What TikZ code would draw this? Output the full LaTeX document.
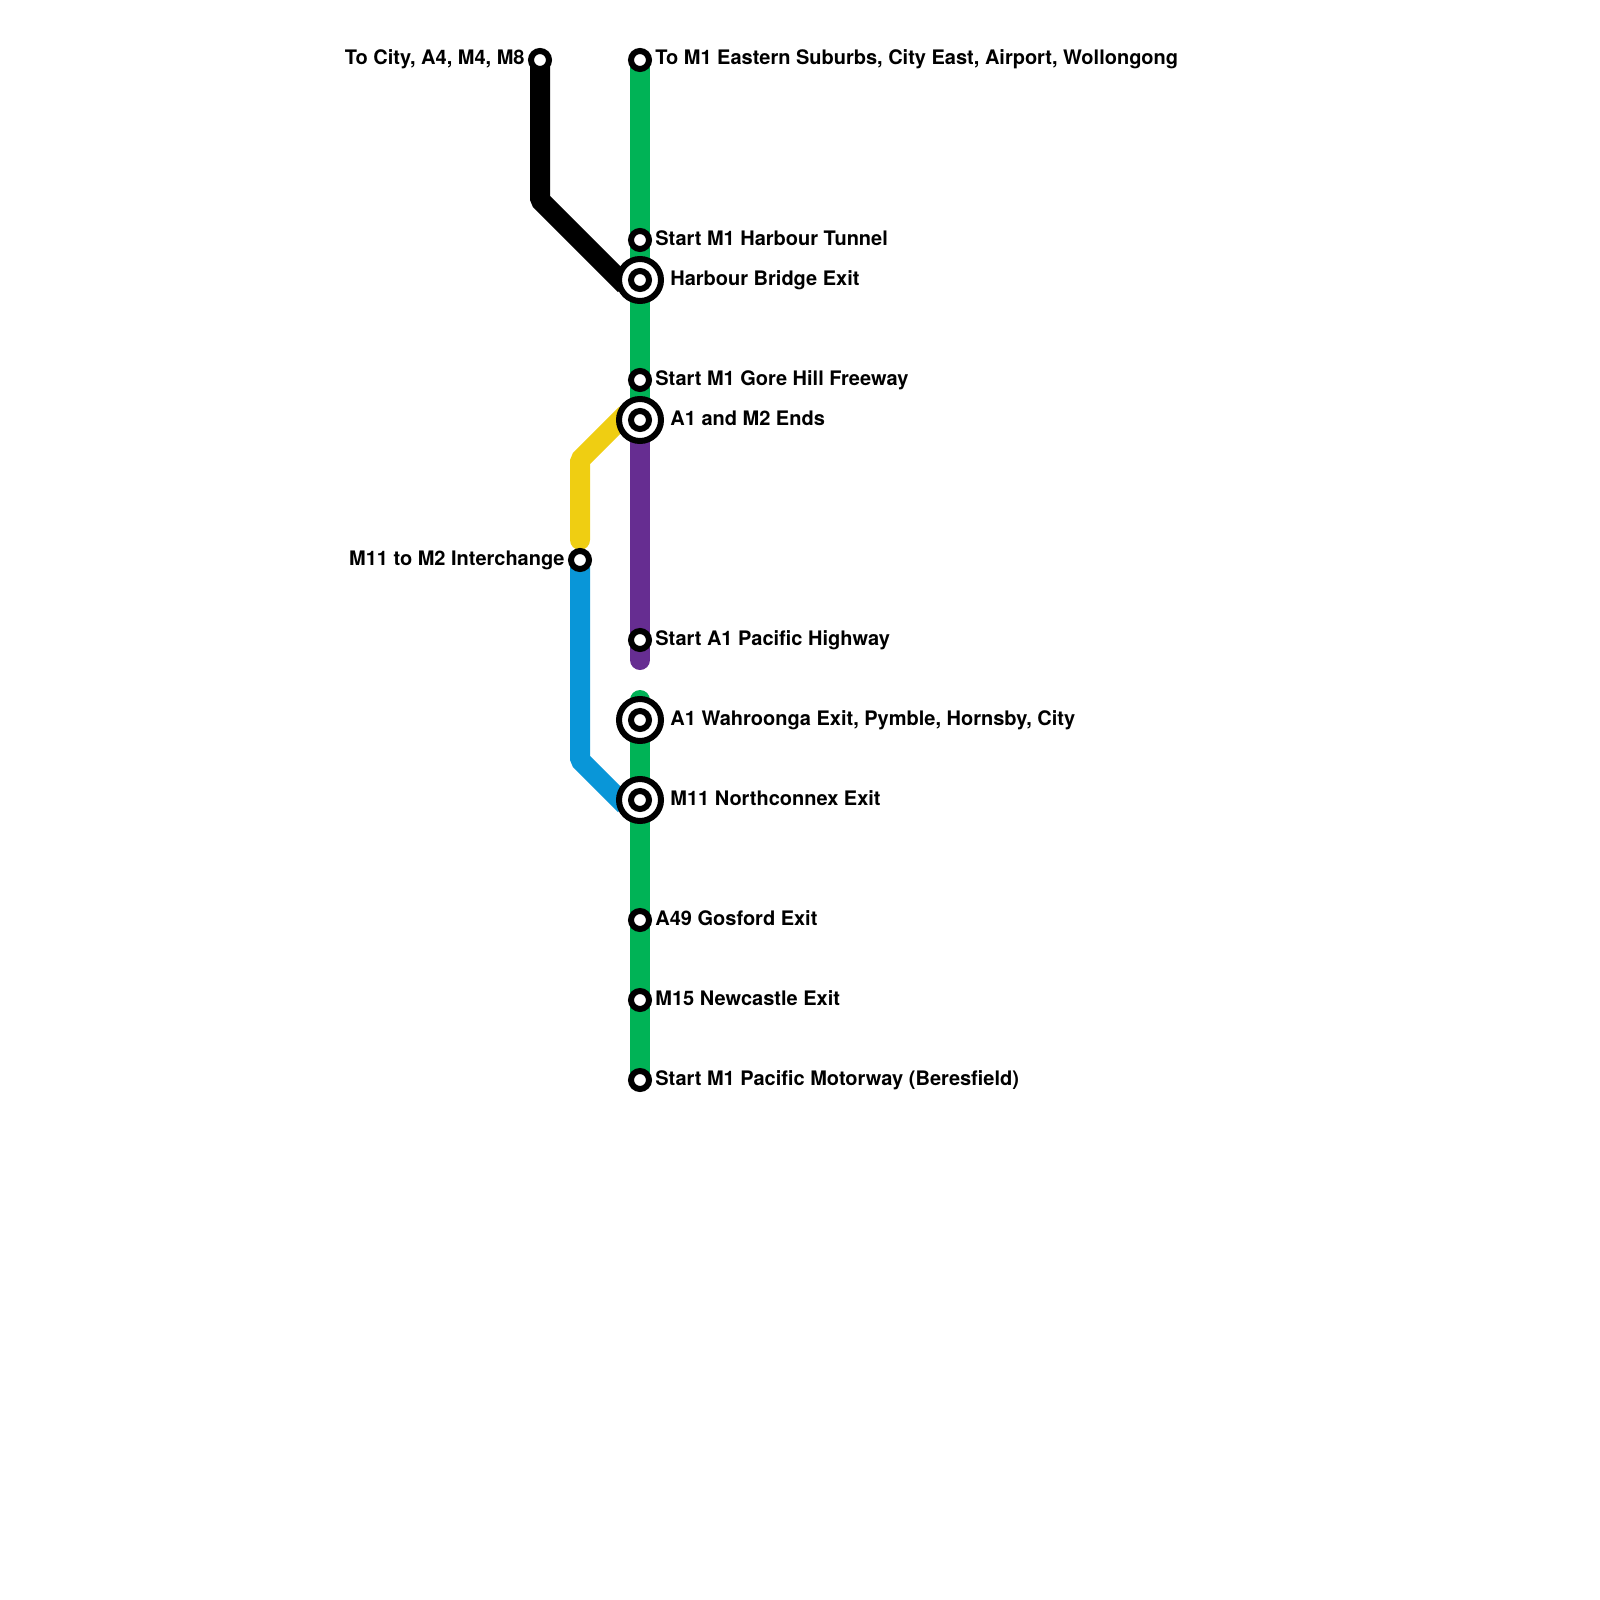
\documentclass[tikz,border=0pt]{standalone}
\usepackage{fontspec}
\setmainfont{TeX Gyre Heros}
\usetikzlibrary{positioning,backgrounds}

\begin{document}
\begin{tikzpicture}[x=0.5pt,y=-0.5pt,on grid,
  stop/.style={circle,draw=black,fill=white,line width=3pt,inner sep=0pt,minimum size=9pt},
  ring/.style={stop,minimum size=21pt},
  label/.style={font=\bfseries\fontsize{10}{12}\selectfont,inner sep=0pt},
  route/.style={line width=10pt,line join=bevel}]
  \useasboundingbox (0,0) rectangle (1600,1600);

  \node[stop] (eastern) at (640,60) {};
  \node[stop,below=90pt of eastern] (tunnel) {};
  \node[ring,below=20pt of tunnel] (bridge_ring) {};
  \node[stop] (bridge) at (bridge_ring) {};
  \node[stop,below=50pt of bridge] (gore) {};
  \node[ring,below=20pt of gore] (ends_ring) {};
  \node[stop] (ends) at (ends_ring) {};
  \node[stop,below=110pt of ends] (pacific) {};
  \node[ring,below=40pt of pacific] (wahroonga_ring) {};
  \node[stop] (wahroonga) at (wahroonga_ring) {};
  \node[ring,below=40pt of wahroonga] (northconnex_ring) {};
  \node[stop] (northconnex) at (northconnex_ring) {};
  \node[stop,below=60pt of northconnex] (gosford) {};
  \node[stop,below=40pt of gosford] (newcastle) {};
  \node[stop,below=40pt of newcastle] (beresfield) {};

  \node[stop] (city) at (540,60) {};
  \node[stop] (interchange) at (580,560) {};

  \node[label,anchor=base west] at (655,65) {To M1 Eastern Suburbs, City East, Airport, Wollongong};
  \node[label,anchor=base west] at (655,245) {Start M1 Harbour Tunnel};
  \node[label,anchor=base west] at (670,285) {Harbour Bridge Exit};
  \node[label,anchor=base west] at (655,385) {Start M1 Gore Hill Freeway};
  \node[label,anchor=base west] at (670,425) {A1 and M2 Ends};
  \node[label,anchor=base west] at (655,645) {Start A1 Pacific Highway};
  \node[label,anchor=base west] at (670,725) {A1 Wahroonga Exit, Pymble, Hornsby, City};
  \node[label,anchor=base west] at (670,805) {M11 Northconnex Exit};
  \node[label,anchor=base west] at (655,925) {A49 Gosford Exit};
  \node[label,anchor=base west] at (655,1005) {M15 Newcastle Exit};
  \node[label,anchor=base west] at (655,1085) {Start M1 Pacific Motorway (Beresfield)};
  \node[label,anchor=base east] at (525,65) {To City, A4, M4, M8};
  \node[label,anchor=base east] at (565,565) {M11 to M2 Interchange};

  \coordinate (city_bend) at (540,200);
  \coordinate (city_end) at (625,285);
  \coordinate (yellow_start) at (625,415);
  \coordinate (yellow_bend) at (580,460);
  \coordinate (yellow_end) at (580,540);
  \coordinate (blue_bend) at (580,760);
  \coordinate (blue_end) at (625,805);
  \coordinate (purple_end) at (640,660);
  \coordinate (green_end) at (640,700);

  \begin{pgfonlayer}{background}
    \draw[route,draw={rgb,255:red,0;green,179;blue,86}] (eastern.center) -- (ends.center);
    \draw[route,draw={rgb,255:red,0;green,179;blue,86},line cap=round] (green_end) -- (beresfield.center);
    \draw[route,draw={rgb,255:red,102;green,45;blue,145},line cap=round] (ends.center) -- (purple_end);
    \draw[route,draw=black] (city.center) -- (city_bend) -- (city_end);
    \draw[route,draw={rgb,255:red,239;green,206;blue,18},line cap=round] (yellow_start) -- (yellow_bend) -- (yellow_end);
    \draw[route,draw={rgb,255:red,9;green,150;blue,216}] (interchange.center) -- (blue_bend) -- (blue_end);
  \end{pgfonlayer}
\end{tikzpicture}
\end{document}
